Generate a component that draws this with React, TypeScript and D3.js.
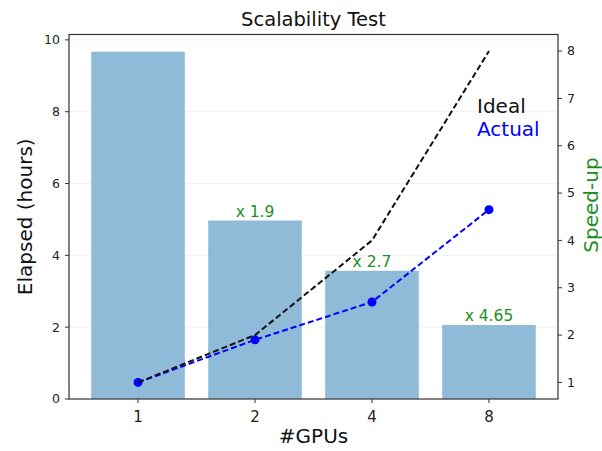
import React from "react";
import * as d3 from "d3";

// data
const gpus = ["1", "2", "4", "8"];
const elapsedHours = [9.67, 4.97, 3.57, 2.06];
const idealSpeedup = [1, 2, 4, 8];
const actualSpeedup = [1, 1.9, 2.7, 4.65];
const speedupLabels = ["", "x 1.9", "x 2.7", "x 4.65"];
const leftTicks = [0, 2, 4, 6, 8, 10];
const rightTicks = [1, 2, 3, 4, 5, 6, 7, 8];

const W = 602;
const H = 451;
const FONT = "DejaVu Sans, sans-serif";
const GREEN = "#1e8f1e";

export default function App() {
  const left = 69;
  const right = 558;
  const top = 34.5;
  const bottom = 399;

  const x = d3.scaleLinear().domain([-0.59, 3.59]).range([left, right]);
  const barW = x(0.4) - x(-0.4);
  const yL = d3.scaleLinear().domain([0, 10.15]).range([bottom, top]);
  const yR = d3.scaleLinear().domain([0.65, 8.35]).range([bottom, top]);

  const line = d3
    .line<number>()
    .x((_, i) => x(i))
    .y(d => yR(d));

  return (
    <div style={{ position: "fixed", left: 0, top: 0 }}>
      <svg width={W} height={H} style={{ display: "block" }} fontFamily={FONT}>
        <rect width={W} height={H} fill="#fff" />

        {/* faint grid */}
        {leftTicks.slice(1).map(t => (
          <line key={t} x1={left} x2={right} y1={yL(t)} y2={yL(t)} stroke="#f0f0f0" strokeWidth={1} />
        ))}

        {/* bars */}
        {elapsedHours.map((v, i) => (
          <rect
            key={i}
            x={x(i) - barW / 2}
            y={yL(v)}
            width={barW}
            height={yL(0) - yL(v)}
            fill="#8fbbd9"
          />
        ))}

        {/* speed-up labels above bars */}
        {speedupLabels.map((s, i) =>
          s ? (
            <text
              key={i}
              x={x(i)}
              y={yL(elapsedHours[i]) - 4}
              textAnchor="middle"
              fontSize={15.5}
              fill={GREEN}
            >
              {s}
            </text>
          ) : null
        )}

        {/* actual */}
        <path d={line(actualSpeedup) || ""} fill="none" stroke="#0000ff" strokeWidth={2} strokeDasharray="6,3" />
        {actualSpeedup.map((v, i) => (
          <circle key={i} cx={x(i)} cy={yR(v)} r={4.5} fill="#0000ff" />
        ))}

        {/* ideal */}
        <path d={line(idealSpeedup) || ""} fill="none" stroke="#111" strokeWidth={2} strokeDasharray="6,3" />

        {/* legend-ish text */}
        <text x={477} y={113} fontSize={20} fill="#111">Ideal</text>
        <text x={477} y={136} fontSize={20} fill="#0000ff">Actual</text>

        {/* frame */}
        <rect x={left} y={top} width={right - left} height={bottom - top} fill="none" stroke="#333" strokeWidth={1.2} />

        {/* left axis */}
        {leftTicks.map(t => (
          <g key={t} transform={`translate(${left},${yL(t)})`}>
            <line x2={-4} stroke="#333" />
            <text x={-9} dy="0.35em" textAnchor="end" fontSize={12.5} fill="#222">{t}</text>
          </g>
        ))}

        {/* right axis */}
        {rightTicks.map(t => (
          <g key={t} transform={`translate(${right},${yR(t)})`}>
            <line x2={4} stroke="#333" />
            <text x={9} dy="0.35em" fontSize={12.5} fill="#222">{t}</text>
          </g>
        ))}

        {/* bottom axis */}
        {gpus.map((g, i) => (
          <g key={g} transform={`translate(${x(i)},${bottom})`}>
            <line y2={4} stroke="#333" />
            <text y={22.5} textAnchor="middle" fontSize={15} fill="#222">{g}</text>
          </g>
        ))}

        {/* titles */}
        <text x={(left + right) / 2} y={26} textAnchor="middle" fontSize={19.5} fill="#111">Scalability Test</text>
        <text x={(left + right) / 2} y={443} textAnchor="middle" fontSize={20} fill="#111">#GPUs</text>
        <text
          transform={`translate(32,${(top + bottom) / 2}) rotate(-90)`}
          textAnchor="middle"
          fontSize={20}
          fill="#111"
        >
          Elapsed (hours)
        </text>
        <text
          transform={`translate(598,205) rotate(-90)`}
          textAnchor="middle"
          fontSize={20}
          fill={GREEN}
        >
          Speed-up
        </text>
      </svg>
    </div>
  );
}
